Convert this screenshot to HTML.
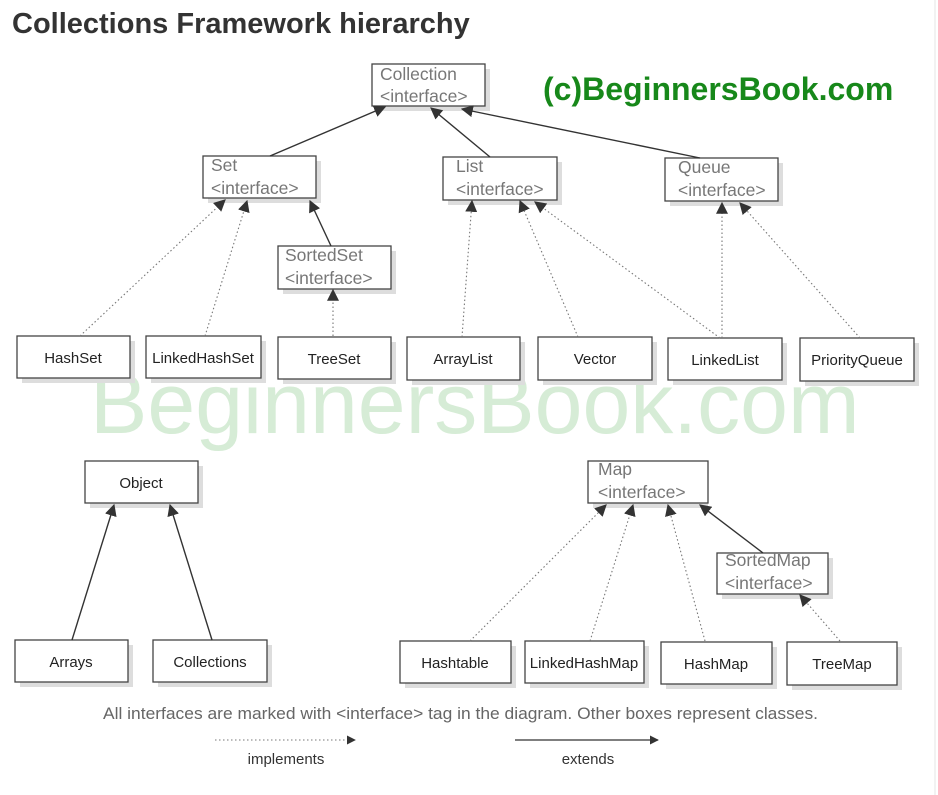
<!DOCTYPE html>
<html><head><meta charset="utf-8"><style>
html,body{margin:0;padding:0;background:#fff;width:938px;height:795px;overflow:hidden}
svg{display:block}
.t{font-family:"Liberation Sans",sans-serif}
</style></head><body>
<svg width="938" height="795" viewBox="0 0 938 795" xmlns="http://www.w3.org/2000/svg">
<defs>
<marker id="a" viewBox="0 0 10 10" refX="9" refY="5" markerWidth="9" markerHeight="9" orient="auto" markerUnits="userSpaceOnUse"><path d="M0,0 L10,5 L0,10 z" fill="#333"/></marker>
<marker id="b" viewBox="0 0 10 10" refX="9" refY="5" markerWidth="12" markerHeight="12" orient="auto" markerUnits="userSpaceOnUse"><path d="M0,0 L10,5 L0,10 z" fill="#333"/></marker>
</defs>
<line x1="935" y1="0" x2="935" y2="795" stroke="#e6e6e6"/>
<text x="12" y="33" class="t" font-size="29" font-weight="bold" fill="#333">Collections Framework hierarchy</text>
<text x="543" y="100" class="t" font-size="32" font-weight="bold" fill="#17881a">(c)BeginnersBook.com</text>
<text x="90" y="433" class="t" font-size="86" fill="#d6ecd6">BeginnersBook.com</text>
<g fill="#ddd">
<rect x="377" y="69" width="113" height="42"/><rect x="208" y="161" width="113" height="42"/><rect x="448" y="162" width="114" height="43"/><rect x="670" y="163" width="113" height="43"/><rect x="283" y="251" width="113" height="43"/>
<rect x="22" y="341" width="113" height="42"/><rect x="151" y="341" width="115" height="42"/><rect x="283" y="342" width="113" height="42"/><rect x="412" y="342" width="113" height="43"/><rect x="543" y="342" width="114" height="43"/><rect x="673" y="343" width="114" height="42"/><rect x="805" y="343" width="114" height="43"/>
<rect x="90" y="466" width="113" height="42"/><rect x="20" y="645" width="113" height="42"/><rect x="158" y="645" width="114" height="42"/>
<rect x="593" y="466" width="115" height="42"/><rect x="722" y="558" width="111" height="41"/>
<rect x="405" y="646" width="111" height="42"/><rect x="530" y="646" width="119" height="42"/><rect x="666" y="647" width="111" height="42"/><rect x="792" y="647" width="110" height="43"/>
</g>
<g fill="#fff" stroke="#444" stroke-width="1.3">
<rect x="372" y="64" width="113" height="42"/><rect x="203" y="156" width="113" height="42"/><rect x="443" y="157" width="114" height="43"/><rect x="665" y="158" width="113" height="43"/><rect x="278" y="246" width="113" height="43"/>
<rect x="17" y="336" width="113" height="42"/><rect x="146" y="336" width="115" height="42"/><rect x="278" y="337" width="113" height="42"/><rect x="407" y="337" width="113" height="43"/><rect x="538" y="337" width="114" height="43"/><rect x="668" y="338" width="114" height="42"/><rect x="800" y="338" width="114" height="43"/>
<rect x="85" y="461" width="113" height="42"/><rect x="15" y="640" width="113" height="42"/><rect x="153" y="640" width="114" height="42"/>
<rect x="588" y="461" width="120" height="42"/><rect x="717" y="553" width="111" height="41"/>
<rect x="400" y="641" width="111" height="42"/><rect x="525" y="641" width="119" height="42"/><rect x="661" y="642" width="111" height="42"/><rect x="787" y="642" width="110" height="43"/>
</g>
<g class="t" font-size="17.5" fill="#777">
<text x="380" y="80">Collection</text><text x="380" y="102">&lt;interface&gt;</text>
<text x="211" y="171">Set</text><text x="211" y="194">&lt;interface&gt;</text>
<text x="456" y="172">List</text><text x="456" y="195">&lt;interface&gt;</text>
<text x="678" y="173">Queue</text><text x="678" y="196">&lt;interface&gt;</text>
<text x="285" y="261">SortedSet</text><text x="285" y="284">&lt;interface&gt;</text>
<text x="598" y="475">Map</text><text x="598" y="498">&lt;interface&gt;</text>
<text x="725" y="566">SortedMap</text><text x="725" y="589">&lt;interface&gt;</text>
</g>
<g class="t" font-size="15" fill="#222" text-anchor="middle">
<text x="73" y="363">HashSet</text><text x="203" y="363">LinkedHashSet</text><text x="334" y="364">TreeSet</text><text x="463" y="364">ArrayList</text><text x="595" y="364">Vector</text><text x="725" y="365">LinkedList</text><text x="857" y="365">PriorityQueue</text>
<text x="141" y="488">Object</text><text x="71" y="667">Arrays</text><text x="210" y="667">Collections</text>
<text x="455" y="668">Hashtable</text><text x="584" y="668">LinkedHashMap</text><text x="716" y="669">HashMap</text><text x="842" y="669">TreeMap</text>
</g>
<g stroke="#333" stroke-width="1.4" fill="none" marker-end="url(#b)">
<line x1="270" y1="156" x2="385" y2="107"/><line x1="490" y1="157" x2="431" y2="108"/><line x1="700" y1="158" x2="462" y2="109"/>
<line x1="331" y1="246" x2="310" y2="201"/>
<line x1="72" y1="640" x2="114" y2="505"/><line x1="212" y1="640" x2="170" y2="505"/>
<line x1="763" y1="553" x2="700" y2="505"/>
</g>
<g stroke="#777" stroke-width="1.1" stroke-dasharray="1.5,2.5" fill="none" marker-end="url(#b)">
<line x1="80" y1="336" x2="225" y2="200"/><line x1="205" y1="336" x2="247" y2="201"/><line x1="333" y1="336" x2="333" y2="290"/>
<line x1="462" y1="337" x2="472" y2="201"/><line x1="578" y1="337" x2="520" y2="201"/><line x1="720" y1="338" x2="535" y2="202"/><line x1="722" y1="338" x2="722" y2="203"/><line x1="860" y1="338" x2="740" y2="203"/>
<line x1="470" y1="641" x2="606" y2="505"/><line x1="590" y1="641" x2="633" y2="505"/><line x1="705" y1="641" x2="668" y2="505"/><line x1="840" y1="641" x2="800" y2="595"/>
</g>
<text x="103" y="719" class="t" font-size="17" fill="#666" textLength="715" lengthAdjust="spacingAndGlyphs">All interfaces are marked with &lt;interface&gt; tag in the diagram. Other boxes represent classes.</text>
<line x1="215" y1="740" x2="355" y2="740" stroke="#777" stroke-width="1.1" stroke-dasharray="1.5,2.5" marker-end="url(#a)"/>
<line x1="515" y1="740" x2="658" y2="740" stroke="#333" stroke-width="1.3" marker-end="url(#a)"/>
<text x="286" y="764" class="t" font-size="15" fill="#333" text-anchor="middle">implements</text>
<text x="588" y="764" class="t" font-size="15" fill="#333" text-anchor="middle">extends</text>
</svg>
</body></html>
